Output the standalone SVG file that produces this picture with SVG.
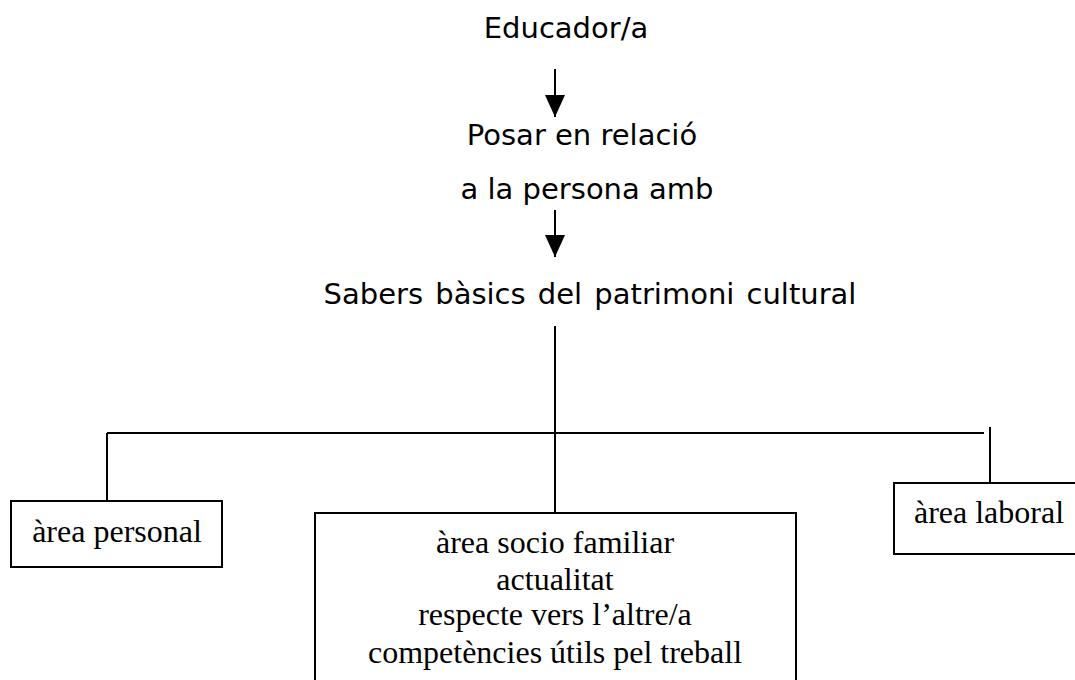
<svg xmlns="http://www.w3.org/2000/svg" width="1075" height="680" viewBox="0 0 1075 680">
<defs>
<style>
.sans{font-family:"DejaVu Sans","Verdana",sans-serif;font-size:29px;fill:#000;text-anchor:middle}
.serif{font-family:"Liberation Serif","Times New Roman",serif;font-size:32px;fill:#000;text-anchor:middle}
.box{fill:#fff;stroke:#000;stroke-width:2}
.ln{stroke:#000;stroke-width:2;fill:none}
</style>
<marker id="ah" viewBox="0 0 22 20" refX="22" refY="10" markerWidth="22" markerHeight="20" markerUnits="userSpaceOnUse" orient="auto">
<path d="M0,0 L22,10 L0,20 Z" fill="#000"/>
</marker>
</defs>
<rect width="1075" height="680" fill="#fff"/>
<g id="connectors">
<line class="ln" x1="555" y1="69" x2="555" y2="117" marker-end="url(#ah)"/>
<line class="ln" x1="555" y1="210" x2="555" y2="257" marker-end="url(#ah)"/>
<line class="ln" x1="555" y1="326" x2="555" y2="513"/>
<line class="ln" x1="107" y1="433" x2="984" y2="433"/>
<line class="ln" x1="107" y1="433" x2="107" y2="501"/>
<line class="ln" x1="990" y1="427" x2="990" y2="483"/>
</g>
<g id="educador"><text class="sans" x="566" y="38">Educador/a</text></g>
<g id="posar">
<text class="sans" x="582" y="145">Posar en relació</text>
<text class="sans" x="587" y="199">a la persona amb</text>
</g>
<g id="sabers"><text class="sans" x="590" y="304" word-spacing="3">Sabers bàsics del patrimoni cultural</text></g>
<g id="personal">
<rect class="box" x="11" y="501" width="211" height="66"/>
<text class="serif" x="117" y="542">àrea personal</text>
</g>
<g id="socio">
<rect class="box" x="315" y="513" width="481" height="180"/>
<text class="serif" x="555" y="553">àrea socio familiar</text>
<text class="serif" x="555" y="590">actualitat</text>
<text class="serif" x="555" y="625">respecte vers l’altre/a</text>
<text class="serif" x="555" y="663">competències útils pel treball</text>
</g>
<g id="laboral">
<rect class="box" x="894" y="483" width="200" height="71"/>
<text class="serif" x="989" y="523">àrea laboral</text>
</g>
</svg>
